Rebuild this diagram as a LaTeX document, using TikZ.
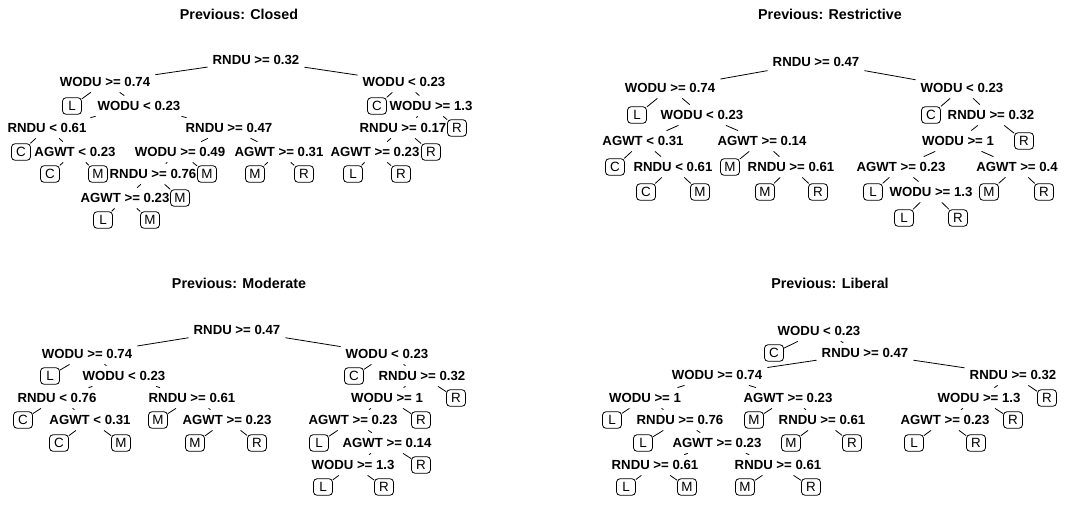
\documentclass[tikz,border=0pt]{standalone}
\usepackage{fontspec}
\setmainfont{Liberation Sans}
\newcommand\splitfnt{\fontsize{13.2}{14}\selectfont\bfseries}
\newcommand\leaffnt{\fontsize{13.4}{14}\selectfont}
\newcommand\titlefnt{\fontsize{14.3}{16}\selectfont\bfseries}
\tikzset{
  splitnode/.style={font=\splitfnt, inner xsep=5pt, inner ysep=5.5pt},
  leafnode/.style={draw, line width=0.8pt, rounded corners=3.5pt, font=\leaffnt, minimum width=19pt, minimum height=16.5pt, inner sep=0pt},
  ttlnode/.style={font=\titlefnt},
  edge/.style={draw, line width=0.8pt},
}
\begin{document}
\begin{tikzpicture}[x=1pt,y=-1pt]
\useasboundingbox (0,0) rectangle (1077,504);
% ---------------- Panel 1: Closed ----------------
\node[ttlnode] (a-t) at (239,14) {Previous: Closed};
\node[splitnode] (a0) at (256,60) {RNDU >= 0.32};
\node[splitnode] (a1) at (105,82) {WODU >= 0.74};
\node[splitnode] (a2) at (404,82) {WODU < 0.23};
\node[leafnode] (a3) at (72,106) {L};
\node[splitnode] (a4) at (139,106) {WODU < 0.23};
\node[leafnode] (a5) at (377,106) {C};
\node[splitnode] (a6) at (431,106) {WODU >= 1.3};
\node[splitnode] (a7) at (47,128) {RNDU < 0.61};
\node[splitnode] (a8) at (229,128) {RNDU >= 0.47};
\node[splitnode] (a9) at (403,128) {RNDU >= 0.17};
\node[leafnode] (a10) at (457,128) {R};
\node[leafnode] (a11) at (21,152) {C};
\node[splitnode] (a12) at (75,152) {AGWT < 0.23};
\node[splitnode] (a13) at (180,152) {WODU >= 0.49};
\node[splitnode] (a14) at (279,152) {AGWT >= 0.31};
\node[splitnode] (a15) at (375,152) {AGWT >= 0.23};
\node[leafnode] (a16) at (431,152) {R};
\node[leafnode] (a17) at (50,174) {C};
\node[leafnode] (a18) at (98,174) {M};
\node[splitnode] (a19) at (153,174) {RNDU >= 0.76};
\node[leafnode] (a20) at (207,174) {M};
\node[leafnode] (a21) at (255,174) {M};
\node[leafnode] (a22) at (304,174) {R};
\node[leafnode] (a23) at (353,174) {L};
\node[leafnode] (a24) at (401,174) {R};
\node[splitnode] (a25) at (125,198) {AGWT >= 0.23};
\node[leafnode] (a26) at (180,198) {M};
\node[leafnode] (a27) at (103,220) {L};
\node[leafnode] (a28) at (150,220) {M};
\foreach \p/\c in {a0/a1,a0/a2,a1/a3,a1/a4,a4/a7,a4/a8,a7/a11,a7/a12,a12/a17,a12/a18,a8/a13,a8/a14,a13/a19,a13/a20,a19/a25,a19/a26,a25/a27,a25/a28,a14/a21,a14/a22,a2/a5,a2/a6,a6/a9,a6/a10,a9/a15,a9/a16,a15/a23,a15/a24}
  \draw[edge] (\p) -- (\c);
% ---------------- Panel 2: Restrictive ----------------
\node[ttlnode] (b-t) at (830,14) {Previous: Restrictive};
\node[splitnode] (b0) at (816,62) {RNDU >= 0.47};
\node[splitnode] (b1) at (670,88) {WODU >= 0.74};
\node[splitnode] (b2) at (962,88) {WODU < 0.23};
\node[leafnode] (b3) at (637,115) {L};
\node[splitnode] (b4) at (702,115) {WODU < 0.23};
\node[leafnode] (b5) at (931,115) {C};
\node[splitnode] (b6) at (991,115) {RNDU >= 0.32};
\node[splitnode] (b7) at (643,141) {AGWT < 0.31};
\node[splitnode] (b8) at (762,141) {AGWT >= 0.14};
\node[splitnode] (b9) at (958,141) {WODU >= 1};
\node[leafnode] (b10) at (1024,141) {R};
\node[leafnode] (b11) at (615,167) {C};
\node[splitnode] (b12) at (673,167) {RNDU < 0.61};
\node[leafnode] (b13) at (730,167) {M};
\node[splitnode] (b14) at (791,167) {RNDU >= 0.61};
\node[splitnode] (b15) at (901,167) {AGWT >= 0.23};
\node[splitnode] (b16) at (1017,167) {AGWT >= 0.4};
\node[leafnode] (b17) at (646,192) {C};
\node[leafnode] (b18) at (700,192) {M};
\node[leafnode] (b19) at (765,192) {M};
\node[leafnode] (b20) at (818,192) {R};
\node[leafnode] (b21) at (873,192) {L};
\node[splitnode] (b22) at (931,192) {WODU >= 1.3};
\node[leafnode] (b23) at (989,192) {M};
\node[leafnode] (b24) at (1044,192) {R};
\node[leafnode] (b25) at (904,218) {L};
\node[leafnode] (b26) at (958,218) {R};
\foreach \p/\c in {b0/b1,b0/b2,b1/b3,b1/b4,b4/b7,b4/b8,b7/b11,b7/b12,b12/b17,b12/b18,b8/b13,b8/b14,b14/b19,b14/b20,b2/b5,b2/b6,b6/b9,b6/b10,b9/b15,b9/b16,b15/b21,b15/b22,b22/b25,b22/b26,b16/b23,b16/b24}
  \draw[edge] (\p) -- (\c);
% ---------------- Panel 3: Moderate ----------------
\node[ttlnode] (c-t) at (239,283) {Previous: Moderate};
\node[splitnode] (c0) at (237,330) {RNDU >= 0.47};
\node[splitnode] (c1) at (87,354) {WODU >= 0.74};
\node[splitnode] (c2) at (387,354) {WODU < 0.23};
\node[leafnode] (c3) at (50,376) {L};
\node[splitnode] (c4) at (124,376) {WODU < 0.23};
\node[leafnode] (c5) at (354,376) {C};
\node[splitnode] (c6) at (422,376) {RNDU >= 0.32};
\node[splitnode] (c7) at (57,398) {RNDU < 0.76};
\node[splitnode] (c8) at (192,398) {RNDU >= 0.61};
\node[splitnode] (c9) at (387,398) {WODU >= 1};
\node[leafnode] (c10) at (456,398) {R};
\node[leafnode] (c11) at (23,420) {C};
\node[splitnode] (c12) at (90,420) {AGWT < 0.31};
\node[leafnode] (c13) at (158,420) {M};
\node[splitnode] (c14) at (227,420) {AGWT >= 0.23};
\node[splitnode] (c15) at (353,420) {AGWT >= 0.23};
\node[leafnode] (c16) at (421,420) {R};
\node[leafnode] (c17) at (59,443) {C};
\node[leafnode] (c18) at (121,443) {M};
\node[leafnode] (c19) at (195,443) {M};
\node[leafnode] (c20) at (257,443) {R};
\node[leafnode] (c21) at (319,443) {L};
\node[splitnode] (c22) at (387,443) {AGWT >= 0.14};
\node[splitnode] (c23) at (353,465) {WODU >= 1.3};
\node[leafnode] (c24) at (421,465) {R};
\node[leafnode] (c25) at (323,487) {L};
\node[leafnode] (c26) at (384,487) {R};
\foreach \p/\c in {c0/c1,c0/c2,c1/c3,c1/c4,c4/c7,c4/c8,c7/c11,c7/c12,c12/c17,c12/c18,c8/c13,c8/c14,c14/c19,c14/c20,c2/c5,c2/c6,c6/c9,c6/c10,c9/c15,c9/c16,c15/c21,c15/c22,c22/c23,c22/c24,c23/c25,c23/c26}
  \draw[edge] (\p) -- (\c);
% ---------------- Panel 4: Liberal ----------------
\node[ttlnode] (d-t) at (830,283) {Previous: Liberal};
\node[splitnode] (d0) at (819,331) {WODU < 0.23};
\node[leafnode] (d1) at (774,353) {C};
\node[splitnode] (d2) at (865,353) {RNDU >= 0.47};
\node[splitnode] (d3) at (717,375) {WODU >= 0.74};
\node[splitnode] (d4) at (1013,375) {RNDU >= 0.32};
\node[splitnode] (d5) at (645,398) {WODU >= 1};
\node[splitnode] (d6) at (788,398) {AGWT >= 0.23};
\node[splitnode] (d7) at (979,398) {WODU >= 1.3};
\node[leafnode] (d8) at (1047,398) {R};
\node[leafnode] (d9) at (612,420) {L};
\node[splitnode] (d10) at (680,420) {RNDU >= 0.76};
\node[leafnode] (d11) at (754,420) {M};
\node[splitnode] (d12) at (822,420) {RNDU >= 0.61};
\node[splitnode] (d13) at (945,420) {AGWT >= 0.23};
\node[leafnode] (d14) at (1013,420) {R};
\node[leafnode] (d15) at (643,443) {L};
\node[splitnode] (d16) at (717,443) {AGWT >= 0.23};
\node[leafnode] (d17) at (791,443) {M};
\node[leafnode] (d18) at (852,443) {R};
\node[leafnode] (d19) at (914,443) {L};
\node[leafnode] (d20) at (976,443) {R};
\node[splitnode] (d21) at (655,465) {RNDU >= 0.61};
\node[splitnode] (d22) at (778,465) {RNDU >= 0.61};
\node[leafnode] (d23) at (626,487) {L};
\node[leafnode] (d24) at (687,487) {M};
\node[leafnode] (d25) at (745,487) {M};
\node[leafnode] (d26) at (811,487) {R};
\foreach \p/\c in {d0/d1,d0/d2,d2/d3,d2/d4,d3/d5,d3/d6,d5/d9,d5/d10,d10/d15,d10/d16,d16/d21,d16/d22,d21/d23,d21/d24,d22/d25,d22/d26,d6/d11,d6/d12,d12/d17,d12/d18,d4/d7,d4/d8,d7/d13,d7/d14,d13/d19,d13/d20}
  \draw[edge] (\p) -- (\c);
\end{tikzpicture}
\end{document}
